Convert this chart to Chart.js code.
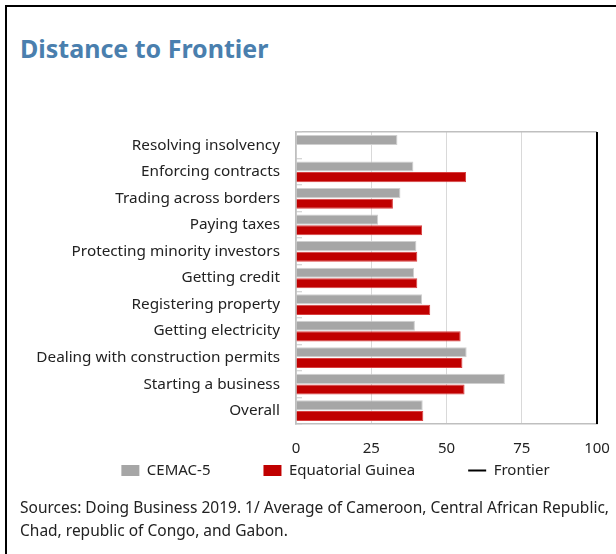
<!DOCTYPE html>
<html>
<head>
<meta charset="utf-8">
<script src="https://cdn.jsdelivr.net/npm/chart.js@4"></script>
<style>
  html, body { margin: 0; padding: 0; background: #fff; }
  body { width: 616px; height: 554px; position: relative; overflow: hidden; font-family: "Noto Sans", sans-serif; }
  #frame { position: absolute; left: 5px; top: 5px; width: 700px; height: 700px; border-left: 2px solid #000; border-top: 2px solid #000; }
  #title { position: absolute; left: 20px; top: 31px; font-size: 25px; font-weight: bold; color: #4a7fae; }
  #wrap { position: absolute; left: 0; top: 90px; width: 616px; height: 442px; }
  #note { position: absolute; left: 20px; top: 496px; font-size: 15.5px; line-height: 23px; color: #222; white-space: nowrap; }
</style>
</head>
<body>
<div id="frame"></div>
<div id="title">Distance to Frontier</div>
<div id="wrap"><canvas id="myChart"></canvas></div>
<div id="note">Sources: Doing Business 2019. 1/ Average of Cameroon, Central African Republic,<br>Chad, republic of Congo, and Gabon.</div>
<script>
// Data

var categories = ["Resolving insolvency", "Enforcing contracts", "Trading across borders", "Paying taxes",
    "Protecting minority investors", "Getting credit", "Registering property", "Getting electricity",
    "Dealing with construction permits", "Starting a business", "Overall"];
var cemac = [33.7, 39.0, 34.7, 27.3, 40.0, 39.2, 41.9, 39.5, 56.7, 69.4, 42.1];
var eqGuinea = [null, 56.5, 32.2, 41.9, 40.3, 40.3, 44.6, 54.7, 55.3, 56.0, 42.3];
var frontier = 100;
var xTicks = [0, 25, 50, 75, 100];

var legendGap = 53;
var legendShift = 37;

// Legend sits right under the axis labels, a bit right of centre
var legendLift = {
    id: 'legendLift',
    afterLayout: function (chart) {
        var lg = chart.legend;
        var h = lg.bottom - lg.top;
        lg.top = chart.chartArea.bottom + 39 - legendGap;
        lg.bottom = lg.top + h;
        lg.left += legendShift;
        lg.right += legendShift;
    }
};

// Frontier line at x = frontier, full height of the plot
var frontierLine = {
    id: 'frontierLine',
    afterDatasetsDraw: function (chart) {
        var c = chart.ctx;
        var x = chart.scales.x.getPixelForValue(frontier);
        c.save();
        c.strokeStyle = '#000';
        c.lineWidth = 2;
        c.beginPath();
        c.moveTo(x, chart.chartArea.top);
        c.lineTo(x, chart.chartArea.bottom);
        c.stroke();
        c.restore();
    }
};

// Graph

var ctx = document.getElementById('myChart').getContext('2d');
var chart = new Chart(ctx, {
    type: 'bar',
    data: {
        labels: categories,
        datasets: [{
                label: "CEMAC-5",
                backgroundColor: '#a6a6a6',
                borderColor: '#cfcfcf',
                borderWidth: 1,
                pointStyle: 'rect',
                data: cemac,
            },
            {
                label: "Equatorial Guinea",
                backgroundColor: '#c00000',
                borderColor: '#d84040',
                borderWidth: 1,
                pointStyle: 'rect',
                data: eqGuinea,
            }
        ]
    },
    options: {
        indexAxis: 'y',
        responsive: true,
        maintainAspectRatio: false,
        animation: false,
        layout: { padding: { top: 42, right: 19, left: 0, bottom: 0 } },
        datasets: { bar: { categoryPercentage: 0.8, barPercentage: 0.95 } },
        scales: {
            x: {
                min: 0,
                max: 100,
                afterBuildTicks: function (s) { s.ticks = xTicks.map(function (v) { return {value: v}; }); },
                afterFit: function (s) { s.height = 30; },
                grid: {
                    drawTicks: true,
                    tickLength: 12,
                    tickColor: 'transparent',
                    color: function (c) { return c.tick && c.tick.value === 100 ? 'transparent' : '#d9d9d9'; },
                },
                border: { color: '#bfbfbf', width: 1.5 },
                ticks: { padding: 4, color: '#222', font: { family: 'Noto Sans', size: 15 } }
            },
            y: {
                afterFit: function (s) { s.width = 296; },
                grid: {
                    drawTicks: true,
                    tickLength: -6,
                    tickColor: '#c8c8c8',
                    tickWidth: 1,
                    color: function (c) { return c.index === 0 ? '#bfbfbf' : 'transparent'; },
                    lineWidth: 1.5,
                },
                border: { color: '#bfbfbf', width: 1.5 },
                ticks: { padding: 22, autoSkip: false, color: '#222', font: { family: 'Noto Sans', size: 15.3 } }
            }
        },
        plugins: {
            tooltip: { enabled: false },
            legend: {
                position: 'bottom',
                labels: {
                    usePointStyle: true,
                    pointStyleWidth: 18,
                    boxWidth: 18,
                    boxHeight: 11,
                    padding: legendGap,
                    color: '#222',
                    font: { family: 'Noto Sans', size: 15 },
                    generateLabels: function (ch) {
                        var items = Chart.defaults.plugins.legend.labels.generateLabels(ch);
                        items.forEach(function (it) { it.lineWidth = 0; });
                        items.push({
                            text: 'Frontier',
                            pointStyle: 'line',
                            strokeStyle: '#000',
                            fillStyle: '#000',
                            lineWidth: 2,
                            fontColor: '#222',
                            hidden: false,
                            datasetIndex: -1
                        });
                        return items;
                    }
                }
            }
        }
    },
    plugins: [legendLift, frontierLine]
});
</script>
</body>
</html>
